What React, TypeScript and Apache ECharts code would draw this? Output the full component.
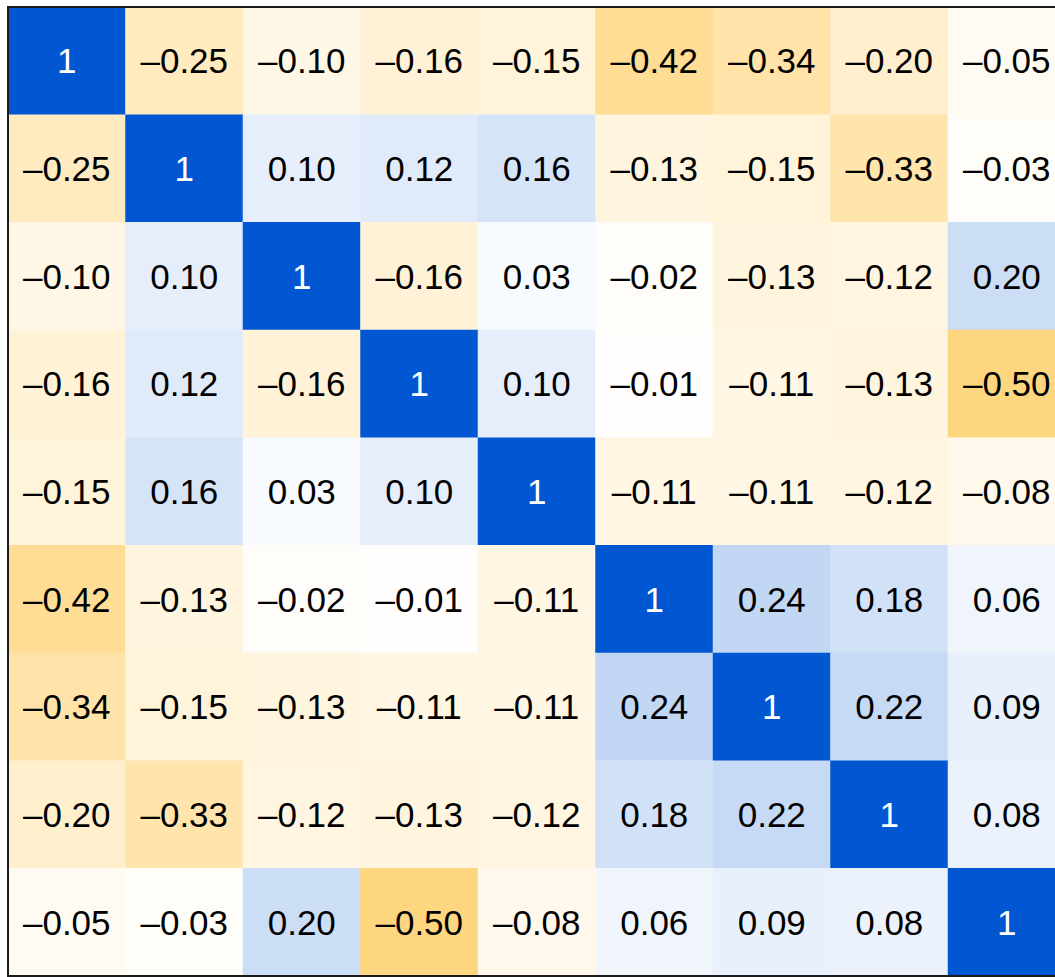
import React, { useEffect, useRef } from "react";
import * as echarts from "echarts";

const labels = ["V1", "V2", "V3", "V4", "V5", "V6", "V7", "V8", "V9"];

const row1 = [1, -0.25, -0.1, -0.16, -0.15, -0.42, -0.34, -0.2, -0.05];
const row2 = [-0.25, 1, 0.1, 0.12, 0.16, -0.13, -0.15, -0.33, -0.03];
const row3 = [-0.1, 0.1, 1, -0.16, 0.03, -0.02, -0.13, -0.12, 0.2];
const row4 = [-0.16, 0.12, -0.16, 1, 0.1, -0.01, -0.11, -0.13, -0.5];
const row5 = [-0.15, 0.16, 0.03, 0.1, 1, -0.11, -0.11, -0.12, -0.08];
const row6 = [-0.42, -0.13, -0.02, -0.01, -0.11, 1, 0.24, 0.18, 0.06];
const row7 = [-0.34, -0.15, -0.13, -0.11, -0.11, 0.24, 1, 0.22, 0.09];
const row8 = [-0.2, -0.33, -0.12, -0.13, -0.12, 0.18, 0.22, 1, 0.08];
const row9 = [-0.05, -0.03, 0.2, -0.5, -0.08, 0.06, 0.09, 0.08, 1];

const matrix = [row1, row2, row3, row4, row5, row6, row7, row8, row9];

function fmt(v: number): string {
  if (v === 1) return "1";
  const s = Math.abs(v).toFixed(2);
  return v < 0 ? "\u2013" + s : s;
}

export default function App() {
  const ref = useRef<HTMLDivElement>(null);
  useEffect(() => {
    if (!ref.current) return;
    const chart = echarts.init(ref.current, undefined, { renderer: "svg" });
    const data: any[] = [];
    matrix.forEach((row, r) => {
      row.forEach((v, c) => {
        data.push({
          value: [c, r, v],
          label: { color: v === 1 ? "#ffffff" : "#000000" },
        });
      });
    });
    chart.setOption({
      animation: false,
      backgroundColor: "#ffffff",
      grid: {
        left: 8,
        top: 7,
        width: 1057.5,
        height: 969,
        show: true,
        borderColor: "#1a1a1a",
        borderWidth: 2,
        backgroundColor: "transparent",
        outerBoundsMode: "none",
        containLabel: false,
        z: 10,
      },
      xAxis: {
        type: "category",
        data: labels,
        show: false,
        splitArea: { show: false },
      },
      yAxis: {
        type: "category",
        data: labels,
        inverse: true,
        show: false,
        splitArea: { show: false },
      },
      visualMap: {
        type: "continuous",
        min: -1,
        max: 1,
        show: false,
        dimension: 2,
        inRange: { color: ["#FFAD00", "#FFFFFF", "#0057D1"] },
      },
      series: [
        {
          type: "heatmap",
          data,
          itemStyle: { borderWidth: 0 },
          label: {
            show: true,
            fontFamily: "Liberation Sans, Arial, sans-serif",
            fontSize: 35,
            formatter: (p: any) => fmt(p.value[2]),
          },
          emphasis: { disabled: true },
        },
      ],
    });
    return () => chart.dispose();
  }, []);
  return (
    <div
      ref={ref}
      style={{ position: "absolute", left: 0, top: 0, width: 1055, height: 977 }}
    />
  );
}
